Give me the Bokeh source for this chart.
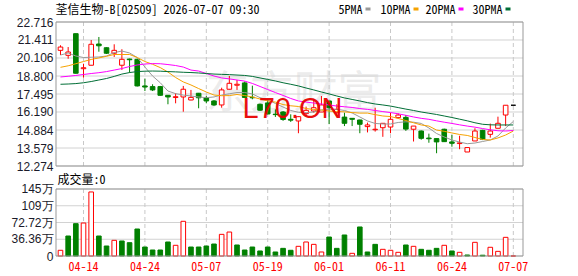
from bokeh.plotting import figure
from bokeh.models import Range1d
from bokeh.core.properties import value
from bokeh.embed import file_html
from bokeh.resources import INLINE

# ---------------- data ----------------
title_text = "荃信生物-B[02509] 2026-07-07 09:30"
vol_title = "成交量:0"

open_ = [20.66, 20.30, 21.87, 19.33, 19.58, 21.12, 20.85, 20.45, 19.58, 20.03,
         20.01, 18.08, 18.03, 18.03, 17.40, 17.24, 17.28, 17.06, 17.55, 17.23,
         16.99, 16.70, 17.84, 18.13, 18.30, 17.26, 16.75, 16.85, 16.03, 16.19,
         15.66, 15.54, 16.07, 16.26, 16.19, 16.99, 16.14, 15.82, 15.73, 15.61,
         15.13, 14.90, 15.05, 15.10, 15.78, 15.80, 14.94, 14.81, 14.30, 14.26,
         14.94, 14.02, 13.90, 13.29, 14.09, 14.86, 14.57, 15.01, 15.97, 16.68]
high_ = [21.03, 20.90, 21.87, 19.69, 21.41, 21.63, 20.88, 21.10, 20.74, 20.06,
         20.06, 18.60, 18.20, 18.08, 17.42, 17.55, 18.08, 17.79, 17.57, 17.35,
         17.06, 17.95, 18.80, 18.51, 18.40, 18.10, 16.80, 17.10, 16.38, 16.26,
         16.02, 15.87, 16.58, 17.15, 17.35, 16.99, 16.75, 16.14, 15.75, 15.63,
         15.42, 16.50, 15.37, 16.14, 16.09, 15.97, 15.17, 14.85, 14.62, 14.28,
         14.98, 14.53, 14.47, 13.61, 15.01, 14.90, 15.35, 15.85, 16.68, 16.68]
low_ = [20.32, 20.05, 18.98, 18.68, 19.58, 20.56, 20.40, 20.18, 19.24, 19.04,
        18.04, 17.71, 17.71, 17.38, 16.75, 16.82, 16.21, 17.04, 16.46, 16.82,
        16.63, 16.50, 17.82, 17.79, 17.23, 17.11, 16.28, 16.00, 15.83, 15.55,
        15.47, 14.65, 15.90, 16.14, 16.19, 15.31, 15.90, 15.17, 15.17, 14.65,
        14.71, 14.77, 14.39, 14.65, 15.70, 14.82, 14.05, 14.18, 13.96, 13.20,
        14.02, 13.67, 13.49, 13.29, 14.09, 14.15, 14.33, 15.01, 15.17, 16.68]
close_ = [20.90, 20.54, 19.00, 19.40, 21.10, 20.99, 20.45, 20.66, 20.01, 19.98,
          18.08, 18.00, 17.79, 17.40, 17.28, 17.30, 17.84, 17.25, 17.22, 16.99,
          16.70, 17.79, 18.27, 18.20, 17.25, 17.22, 16.32, 16.05, 16.00, 15.65,
          15.60, 15.85, 16.31, 16.50, 16.70, 16.50, 16.38, 15.37, 15.66, 15.30,
          15.25, 14.94, 15.37, 15.66, 15.97, 14.95, 15.17, 14.28, 14.25, 14.02,
          14.04, 13.92, 13.95, 13.61, 14.81, 14.21, 14.81, 15.37, 16.68, 16.68]
# volume in 万 shares
volume = [12.4, 43.4, 70.2, 71.6, 139.0, 43.4, 21.7, 34.0, 32.6, 28.9,
          58.6, 19.5, 13.0, 13.0, 30.4, 23.2, 75.3, 19.5, 19.5, 21.7,
          26.0, 47.0, 52.0, 23.9, 13.0, 19.5, 10.9, 19.5, 8.7, 16.6,
          12.4, 21.0, 30.4, 25.3, 8.7, 41.2, 16.6, 45.6, 5.8, 63.0,
          8.7, 25.3, 14.5, 12.4, 8.0, 23.9, 21.0, 14.5, 12.4, 16.6,
          23.2, 10.9, 8.0, 2.2, 29.7, 1.7, 18.9, 10.1, 40.5, 0.0]

ma5 = [20.32, 20.47, 20.25, 20.14, 20.16, 20.18, 20.25, 20.50, 20.61, 20.47,
       20.14, 19.45, 18.80, 18.31, 17.71, 17.52, 17.42, 17.35, 17.28, 17.23,
       17.28, 17.42, 17.51, 17.60, 17.60, 17.50, 17.23, 17.06, 16.81, 16.55,
       16.30, 16.17, 16.14, 16.19, 16.34, 16.39, 16.39, 16.30, 16.12, 15.83,
       15.54, 15.36, 15.32, 15.32, 15.43, 15.48, 15.45, 15.36, 15.03, 14.63,
       14.38, 14.16, 14.01, 13.89, 13.94, 14.05, 14.16, 14.45, 15.03, 15.50]
ma10 = [19.43, 19.54, 19.69, 19.85, 20.00, 20.11, 20.23, 20.36, 20.36, 20.36,
        20.14, 19.85, 19.65, 19.41, 19.09, 18.69, 18.37, 18.15, 17.89, 17.64,
        17.42, 17.37, 17.38, 17.46, 17.38, 17.28, 17.13, 16.99, 16.91, 16.73,
        16.64, 16.59, 16.44, 16.37, 16.33, 16.26, 16.22, 16.20, 16.15, 16.11,
        16.11, 16.00, 15.90, 15.86, 15.72, 15.57, 15.41, 15.25, 15.17, 14.88,
        14.79, 14.67, 14.56, 14.49, 14.34, 14.20, 14.16, 14.31, 14.52, 14.81]
ma20 = [18.73, 18.78, 18.84, 18.91, 18.98, 19.04, 19.12, 19.23, 19.34, 19.49,
        19.60, 19.67, 19.70, 19.69, 19.63, 19.56, 19.45, 19.23, 19.16, 18.98,
        18.80, 18.66, 18.59, 18.51, 18.43, 18.26, 18.04, 17.82, 17.60, 17.39,
        17.17, 16.99, 16.91, 16.84, 16.77, 16.70, 16.62, 16.57, 16.52, 16.44,
        16.38, 16.30, 16.22, 16.15, 16.06, 15.95, 15.83, 15.73, 15.66, 15.55,
        15.45, 15.36, 15.26, 15.17, 15.09, 14.99, 14.90, 14.83, 14.81, 14.85]
ma30 = [18.20, 18.22, 18.25, 18.31, 18.40, 18.51, 18.62, 18.77, 18.94, 19.05,
        19.12, 19.15, 19.16, 19.15, 19.12, 19.10, 19.07, 19.05, 19.02, 18.98,
        18.94, 18.92, 18.90, 18.87, 18.84, 18.77, 18.66, 18.55, 18.44, 18.31,
        18.20, 18.08, 17.93, 17.79, 17.64, 17.50, 17.35, 17.21, 17.10, 16.99,
        16.87, 16.77, 16.70, 16.62, 16.51, 16.40, 16.30, 16.19, 16.10, 16.01,
        15.90, 15.79, 15.67, 15.55, 15.41, 15.30, 15.26, 15.25, 15.25, 15.25]

date_tick_idx = [3, 11, 19, 27, 35, 43, 51, 59]
date_tick_labels = ["04-14", "04-24", "05-07", "05-19", "06-01", "06-11", "06-24", "07-07"]

price_ticks = [12.274, 13.579, 14.884, 16.190, 17.495, 18.800, 20.106, 21.411, 22.716]
price_tick_labels = ["12.274", "13.579", "14.884", "16.190", "17.495", "18.800", "20.106", "21.411", "22.716"]
vol_ticks = [0, 36.36, 72.72, 109.08, 145.44]
vol_tick_labels = ["0", "36.36万", "72.72万", "109万", "145万"]

ma_names = ["5PMA", "10PMA", "20PMA", "30PMA"]

# ---------------- styles / layout ----------------
RED = "#ff0000"
GREEN = "#008000"
MA_COLORS = ["#999999", "#f5a200", "#ff00ff", "#006e36"]
GRID = "#d2d2d2"
VGRID = "#c8c8c8"
FRAME = "#999999"
LABEL_COLOR = "#1a1a2a"
CJK_MONO = "Noto Sans Mono CJK SC"
AXIS_FONT = "Liberation Sans"

W, H = 578, 276
FRAME_L, FRAME_R = 55, 523        # page px of the two chart boxes (left / right edge)
BAR_PX = 7.675                    # px per trading day
X0 = -0.65                        # data x at the left box edge
P_TOP, P_BOT = 21.5, 165.5        # page rows of the price box top/bottom lines
V_TOP, V_BOT = 188.5, 255.5       # page rows of the volume box top/bottom lines


def xpx(px):
    return X0 + (px - FRAME_L) / BAR_PX


kp = (price_ticks[-1] - price_ticks[0]) / (P_BOT - P_TOP)
kv = (vol_ticks[-1] - vol_ticks[0]) / (V_BOT - V_TOP)


def ppx(row):
    return price_ticks[0] + (P_BOT - row) * kp


def vpx(row):
    return vol_ticks[0] + (V_BOT - row) * kv


box_l, box_r = xpx(FRAME_L + 0.5), xpx(FRAME_R - 0.5)

n = len(close_)
idx = list(range(n))


def candle_color(o, c):
    if c > o:
        return RED
    if c < o:
        return GREEN
    return "#000000"


c_colors = [candle_color(o, c) for o, c in zip(open_, close_)]
c_fill = ["#ffffff" if col == RED else col for col in c_colors]
body_top = [max(o, c) for o, c in zip(open_, close_)]
body_bot = [min(o, c) for o, c in zip(open_, close_)]

v_colors = []
for i in range(n):
    prev = close_[i - 1] if i > 0 else open_[i]
    v_colors.append(RED if close_[i] >= prev else GREEN)
v_fill = ["#ffffff" if col == RED else col for col in v_colors]

p = figure(width=W, height=H, x_range=Range1d(xpx(0), xpx(W)), y_range=Range1d(ppx(H), ppx(0)),
           x_axis_location=None, y_axis_location=None, min_border=0,
           output_backend="svg", toolbar_location=None, title=None)
p.extra_y_ranges = {"vol": Range1d(vpx(H), vpx(0))}
p.outline_line_color = None
p.background_fill_color = "#ffffff"
p.border_fill_color = "#ffffff"
p.xgrid.visible = False
p.ygrid.visible = False


def add_text(xs, ys, texts, font, size, color, align="left", alpha=1.0, rng="default"):
    p.text(x=xs, y=ys, text=texts, text_font=value(font), text_font_size=value(size),
           text_color=color, text_alpha=alpha, text_align=align, text_baseline="middle",
           y_range_name=rng)


# ---------------- price panel ----------------
add_text([xpx(205)], [ppx(88)], ["东方财富"], "Noto Sans CJK SC", "44px", "#c8c8c8", alpha=0.35)

p.segment(x0=[box_l] * len(price_ticks), x1=[box_r] * len(price_ticks), y0=price_ticks, y1=price_ticks,
          line_color=GRID, line_width=1)
p.segment(x0=date_tick_idx, x1=date_tick_idx, y0=[price_ticks[0]] * len(date_tick_idx),
          y1=[price_ticks[-1]] * len(date_tick_idx), line_color=VGRID, line_width=1, line_dash="4 3")

p.segment(x0=idx, y0=high_, x1=idx, y1=low_, line_color=c_colors, line_width=1)
p.vbar(x=idx, width=0.6, top=body_top, bottom=body_bot, fill_color=c_fill,
       line_color=c_colors, line_width=1)

for ma, col in zip([ma5, ma10, ma20, ma30], MA_COLORS):
    p.line(idx, ma, line_color=col, line_width=1)

p.quad(left=[box_l], right=[box_r], bottom=[price_ticks[0]], top=[price_ticks[-1]],
       fill_color=None, line_color=FRAME, line_width=1)

add_text([xpx(242)], [ppx(107)], ["L70.ON"], "Liberation Sans", "29px", "#e80000", alpha=0.95)

# price axis labels
add_text([xpx(53)] * len(price_ticks), price_ticks, price_tick_labels, AXIS_FONT, "12px",
         LABEL_COLOR, align="right")

# title
add_text([xpx(FRAME_L)], [ppx(8)], [title_text], CJK_MONO, "12px", "#000000")

# legend: text followed by colour swatch
legend_px = [338, 380, 425, 472]
for name, col, lx in zip(ma_names, MA_COLORS, legend_px):
    add_text([xpx(lx)], [ppx(8)], [name], CJK_MONO, "12px", "#000000")
    sx = lx + 6 * len(name) + 3
    p.quad(left=[xpx(sx)], right=[xpx(sx + 5)], top=[ppx(7)], bottom=[ppx(10)],
           fill_color=col, line_color=None)

# ---------------- volume panel ----------------
p.segment(x0=[box_l] * len(vol_ticks), x1=[box_r] * len(vol_ticks), y0=vol_ticks, y1=vol_ticks,
          line_color=GRID, line_width=1, y_range_name="vol")
p.segment(x0=date_tick_idx, x1=date_tick_idx, y0=[vol_ticks[0]] * len(date_tick_idx),
          y1=[vol_ticks[-1]] * len(date_tick_idx), line_color=VGRID, line_width=1, line_dash="4 3",
          y_range_name="vol")

p.vbar(x=idx, width=0.6, top=volume, bottom=0, fill_color=v_fill, line_color=v_colors,
       line_width=1, y_range_name="vol")

p.quad(left=[box_l], right=[box_r], bottom=[vol_ticks[0]], top=[vol_ticks[-1]],
       fill_color=None, line_color=FRAME, line_width=1, y_range_name="vol")

add_text([xpx(53)] * len(vol_ticks), vol_ticks, vol_tick_labels, AXIS_FONT, "12px",
         LABEL_COLOR, align="right", rng="vol")

add_text([xpx(57)], [vpx(178)], [vol_title], CJK_MONO, "12px", "#000000", rng="vol")

# date labels
add_text(date_tick_idx, [vpx(266)] * len(date_tick_idx), date_tick_labels, CJK_MONO, "12px",
         RED, align="center", rng="vol")

open("out.html", "w").write(file_html(p, INLINE))
